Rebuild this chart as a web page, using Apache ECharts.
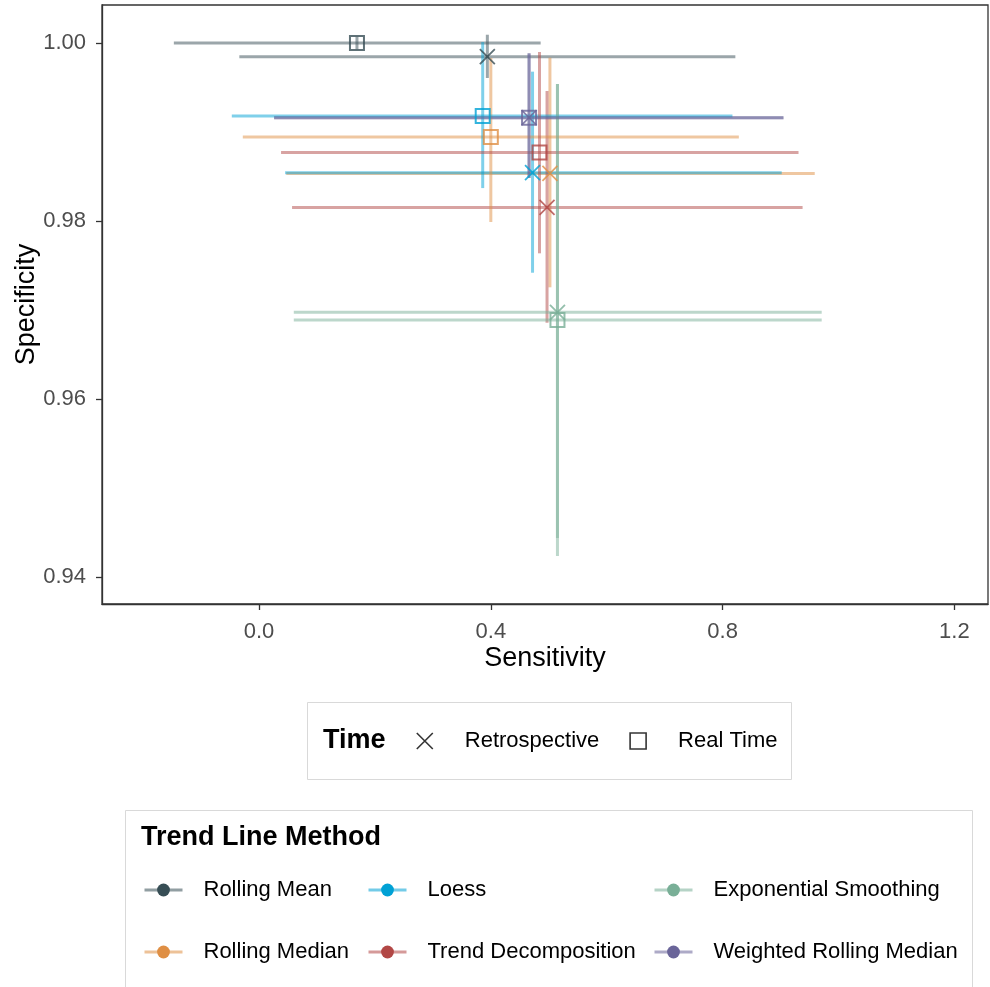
<!DOCTYPE html>
<html>
<head>
<meta charset="utf-8">
<script src="https://cdn.jsdelivr.net/npm/echarts@6/dist/echarts.min.js"></script>
<style>
  html, body { margin: 0; padding: 0; background: #fff; }
  #main { width: 990px; height: 987px; }
</style>
</head>
<body>
<div id="main"></div>
<script>
// trend line methods (legend order)
var methods = ['Rolling Mean', 'Rolling Median', 'Loess', 'Trend Decomposition', 'Exponential Smoothing', 'Weighted Rolling Median'];
var methodColors = ['#374E55', '#DF8F44', '#00A1D5', '#B24745', '#79AF97', '#6A6599'];

// Retrospective
var retroSens     = [0.394, 0.502, 0.472, 0.497, 0.515, 0.466];
var retroSensLow  = [-0.034, 0.047, 0.045, 0.057, 0.060, 0.026];
var retroSensHigh = [0.822, 0.959, 0.902, 0.938, 0.971, 0.905];
var retroSpec     = [0.99846, 0.98534, 0.98543, 0.98152, 0.96974, 0.99161];
var retroSpecLow  = [0.99607, 0.97255, 0.97419, 0.96857, 0.94438, 0.98483];
var retroSpecHigh = [1.00093, 0.99835, 0.99678, 0.99461, 0.99539, 0.99884];

// Real Time
var realSens     = [0.169, 0.400, 0.386, 0.484, 0.515, 0.466];
var realSensLow  = [-0.147, -0.028, -0.047, 0.038, 0.060, 0.026];
var realSensHigh = [0.486, 0.828, 0.817, 0.931, 0.971, 0.905];
var realSpec     = [1.0000, 0.98944, 0.99180, 0.98770, 0.96888, 0.99161];
var realSpecLow  = [0.9993, 0.97989, 0.98370, 0.97637, 0.94236, 0.98483];
var realSpecHigh = [1.0007, 0.99831, 1.00010, 0.99899, 0.99539, 0.99884];

// axis ticks
var xTicks = [0.0, 0.4, 0.8, 1.2];
var yTicks = [0.94, 0.96, 0.98, 1.00];

var FONT = 'Liberation Sans, Arial, sans-serif';
var crossPath = 'path://M0,0L16,16M16,0L0,16';

function buildRows(sens, sLow, sHigh, spec, pLow, pHigh) {
    var rows = [];
    for (var i = 0; i < methods.length; i++) {
        rows.push([sens[i], spec[i], sLow[i], sHigh[i], pLow[i], pHigh[i], i]);
    }
    return rows;
}

var retroRows = buildRows(retroSens, retroSensLow, retroSensHigh, retroSpec, retroSpecLow, retroSpecHigh);
var realRows = buildRows(realSens, realSensLow, realSensHigh, realSpec, realSpecLow, realSpecHigh);

// horizontal + vertical error bars
function renderBars(params, api) {
    var c = methodColors[api.value(6)];
    var l = api.coord([api.value(2), api.value(1)]);
    var r = api.coord([api.value(3), api.value(1)]);
    var b = api.coord([api.value(0), api.value(4)]);
    var t = api.coord([api.value(0), api.value(5)]);
    var st = { stroke: c, lineWidth: 3, opacity: 0.5 };
    return {
        type: 'group',
        children: [
            { type: 'line', shape: { x1: l[0], y1: l[1], x2: r[0], y2: r[1] }, style: st },
            { type: 'line', shape: { x1: b[0], y1: b[1], x2: t[0], y2: t[1] }, style: st }
        ]
    };
}

function pointData(rows) {
    return rows.map(function (r) {
        return {
            value: [r[0], r[1]],
            itemStyle: { borderColor: methodColors[r[6]] }
        };
    });
}

var series = [];

// dummy series only for the legends
methods.forEach(function (m, i) {
    series.push({
        name: m, type: 'line', data: [], symbol: 'circle',
        itemStyle: { color: methodColors[i] },
        lineStyle: { color: methodColors[i], width: 3, opacity: 0.55 }
    });
});
series.push({
    name: 'Retrospective', type: 'scatter', data: [], symbol: crossPath, symbolSize: 16,
    itemStyle: { color: 'rgba(0,0,0,0)', borderColor: '#000', borderWidth: 1.6 }
});
series.push({
    name: 'Real Time', type: 'scatter', data: [], symbol: 'rect', symbolSize: 14,
    itemStyle: { color: 'rgba(0,0,0,0)', borderColor: '#000', borderWidth: 1.6 }
});

series.push({ name: 'bars_retro', type: 'custom', renderItem: renderBars, data: retroRows, silent: true, z: 2 });
series.push({ name: 'bars_real', type: 'custom', renderItem: renderBars, data: realRows, silent: true, z: 2 });

series.push({
    name: 'pts_retro', type: 'scatter', symbol: crossPath, symbolSize: 15, z: 5,
    itemStyle: { color: 'rgba(0,0,0,0)', borderWidth: 1.8 },
    data: pointData(retroRows)
});
series.push({
    name: 'pts_real', type: 'scatter', symbol: 'rect', symbolSize: 14, z: 5,
    itemStyle: { color: 'rgba(0,0,0,0)', borderWidth: 2 },
    data: pointData(realRows)
});

var legendText = { fontFamily: FONT, fontSize: 22, color: '#000', lineHeight: 24, padding: [0, 0, 0, 16] };

function trendLegend(names, left) {
    return {
        data: names, left: left, top: 878, orient: 'vertical', padding: 0,
        itemWidth: 38, itemHeight: 16, itemGap: 38, selectedMode: false,
        lineStyle: { width: 3, opacity: 0.55 },
        textStyle: legendText
    };
}

var option = {
    animation: false,
    backgroundColor: '#fff',
    grid: {
        left: 102, right: 2, top: 5, bottom: 383, outerBoundsMode: 'none', containLabel: false,
        show: true, borderColor: '#333', borderWidth: 1.3, backgroundColor: '#fff'
    },
    xAxis: {
        type: 'value', min: -0.271, max: 1.258,
        name: 'Sensitivity', nameLocation: 'middle', nameGap: 41, nameMoveOverlap: false,
        nameTextStyle: { fontFamily: FONT, fontSize: 27, color: '#000' },
        axisLine: { show: true, onZero: false, lineStyle: { color: '#333', width: 1.3 } },
        axisTick: { show: true, length: 6, lineStyle: { color: '#333', width: 1.3 }, customValues: xTicks },
        axisLabel: { fontFamily: FONT, fontSize: 22, color: '#4D4D4D', margin: 17, customValues: xTicks,
            formatter: function (v) { return v.toFixed(1); } },
        splitLine: { show: false }
    },
    yAxis: {
        type: 'value', min: 0.93697, max: 1.00427,
        name: 'Specificity', nameLocation: 'middle', nameGap: 62, nameMoveOverlap: false,
        nameTextStyle: { fontFamily: FONT, fontSize: 27, color: '#000' },
        axisLine: { show: true, onZero: false, lineStyle: { color: '#333', width: 1.3 } },
        axisTick: { show: true, length: 6, lineStyle: { color: '#333', width: 1.3 }, customValues: yTicks },
        axisLabel: { fontFamily: FONT, fontSize: 22, color: '#4D4D4D', margin: 16, customValues: yTicks,
            formatter: function (v) { return v.toFixed(2); } },
        splitLine: { show: false }
    },
    legend: [
        {
            data: ['Retrospective', 'Real Time'], left: 416, top: 729, orient: 'horizontal', padding: 0,
            itemWidth: 16, itemHeight: 16, itemGap: 30, selectedMode: false,
            itemStyle: { borderWidth: 1.6 },
            textStyle: { fontFamily: FONT, fontSize: 22, color: '#000', lineHeight: 24, padding: [0, 0, 0, 27] }
        },
        trendLegend([methods[0], methods[1]], 143),
        trendLegend([methods[2], methods[3]], 367),
        trendLegend([methods[4], methods[5]], 653)
    ],
    graphic: [
        { type: 'rect', shape: { x: 307.5, y: 702.5, width: 484, height: 77 }, style: { fill: 'none', stroke: '#D9D9D9', lineWidth: 1 } },
        { type: 'text', x: 323, y: 741, style: { text: 'Time', font: 'bold 27px ' + FONT, fill: '#000', verticalAlign: 'middle' } },
        { type: 'rect', shape: { x: 125.5, y: 810.5, width: 847, height: 200 }, style: { fill: 'none', stroke: '#D9D9D9', lineWidth: 1 } },
        { type: 'text', x: 141, y: 838, style: { text: 'Trend Line Method', font: 'bold 27px ' + FONT, fill: '#000', verticalAlign: 'middle' } }
    ],
    series: series
};

var myChart = echarts.init(document.getElementById('main'));
myChart.setOption(option);
</script>
</body>
</html>
